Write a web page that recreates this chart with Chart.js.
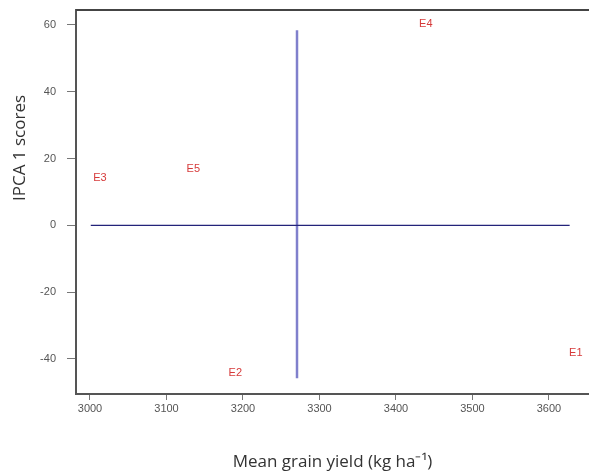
<!DOCTYPE html>
<html>
<head>
<meta charset="utf-8">
<script src="https://cdn.jsdelivr.net/npm/chart.js@4"></script>
<style>
  html, body { margin: 0; padding: 0; background: #fff; overflow: hidden; }
</style>
</head>
<body>
<canvas id="ammiChart" width="589" height="473"></canvas>
<script>
// AMMI1 biplot: environments, mean yield vs IPCA 1
const envNames = ["E1", "E2", "E3", "E4", "E5"];
const meanYield = [3635, 3190, 3013, 3439, 3135];
const ipca1 = [-38.3, -44.3, 14.1, 60.2, 16.8];

const xTicks = [3000, 3100, 3200, 3300, 3400, 3500, 3600];
const yTicks = [-40, -20, 0, 20, 40, 60];

// reference lines: grand mean (vertical) and IPCA = 0 (horizontal)
const grandMean = 3270.6;
const grandMeanY = [-45.8, 58.4];
const zeroLineX = [3001, 3627];

const labelPlugin = {
  id: "envLabels",
  afterDatasetsDraw(chart) {
    const ctx = chart.ctx;
    const meta = chart.getDatasetMeta(0);
    ctx.save();
    ctx.fillStyle = "#d63a3a";
    ctx.font = "11px 'Liberation Sans', Arial, sans-serif";
    ctx.textAlign = "center";
    ctx.textBaseline = "middle";
    meta.data.forEach((pt, i) => {
      ctx.fillText(envNames[i], pt.x, pt.y);
    });
    ctx.restore();
  }
};

const framePlugin = {
  id: "frame",
  afterDraw(chart) {
    const { ctx, chartArea } = chart;
    ctx.save();
    ctx.strokeStyle = "#444";
    ctx.lineWidth = 2;
    ctx.beginPath();
    ctx.moveTo(chartArea.left, chartArea.top);
    ctx.lineTo(chartArea.right, chartArea.top);
    ctx.stroke();

    // y axis title, sits above centre like the original
    ctx.translate(20, 148);
    ctx.rotate(-Math.PI / 2);
    ctx.fillStyle = "#333";
    ctx.font = "17px 'Open Sans', sans-serif";
    ctx.textAlign = "center";
    ctx.textBaseline = "middle";
    ctx.fillText("IPCA 1 scores", 0, 0);
    ctx.restore();
  }
};

const plainTick = v => String(v);

new Chart(document.getElementById("ammiChart"), {
  type: "scatter",
  data: {
    datasets: [
      {
        label: "Environments",
        data: meanYield.map((x, i) => ({ x, y: ipca1[i] })),
        pointRadius: 0,
        pointHoverRadius: 0
      },
      {
        label: "IPCA zero",
        data: zeroLineX.map(x => ({ x, y: 0 })),
        showLine: true,
        borderColor: "#23237a",
        borderWidth: 1.3,
        pointRadius: 0
      },
      {
        label: "Grand mean",
        data: grandMeanY.map(y => ({ x: grandMean, y })),
        showLine: true,
        borderColor: "#8080cc",
        borderWidth: 2.5,
        pointRadius: 0
      }
    ]
  },
  options: {
    responsive: false,
    animation: false,
    devicePixelRatio: 1,
    layout: { padding: { top: 10, right: 0, left: 0, bottom: 0 } },
    plugins: {
      legend: { display: false },
      tooltip: { enabled: false }
    },
    scales: {
      x: {
        type: "linear",
        min: 2981.7,
        max: 3652.3,
        afterBuildTicks: scale => { scale.ticks = xTicks.map(v => ({ value: v })); },
        afterFit: scale => {
          scale.height = 79;
          scale.paddingLeft = 0;
          scale.paddingRight = 0;
        },
        grid: { drawOnChartArea: false, drawTicks: true, tickLength: 6, color: "#777" },
        border: { display: true, color: "#555", width: 2 },
        ticks: {
          font: { size: 11, family: "'Liberation Sans', Arial, sans-serif" },
          color: "#555",
          padding: 2,
          maxRotation: 0,
          callback: plainTick
        },
        title: {
          display: true,
          text: "Mean grain yield (kg ha\u207B\u00B9)",
          color: "#333",
          font: { size: 17, family: "'Open Sans', sans-serif" },
          padding: { top: 0, bottom: 1 }
        }
      },
      y: {
        type: "linear",
        min: -50.48,
        max: 64.49,
        afterBuildTicks: scale => { scale.ticks = yTicks.map(v => ({ value: v })); },
        afterFit: scale => {
          scale.width = 76;
          scale.paddingTop = 0;
          scale.paddingBottom = 0;
        },
        grid: { drawOnChartArea: false, drawTicks: true, tickLength: 9, color: "#777" },
        border: { display: true, color: "#555", width: 2 },
        ticks: {
          font: { size: 11, family: "'Liberation Sans', Arial, sans-serif" },
          color: "#555",
          padding: 11,
          callback: plainTick
        }
      }
    }
  },
  plugins: [labelPlugin, framePlugin]
});
</script>
</body>
</html>
